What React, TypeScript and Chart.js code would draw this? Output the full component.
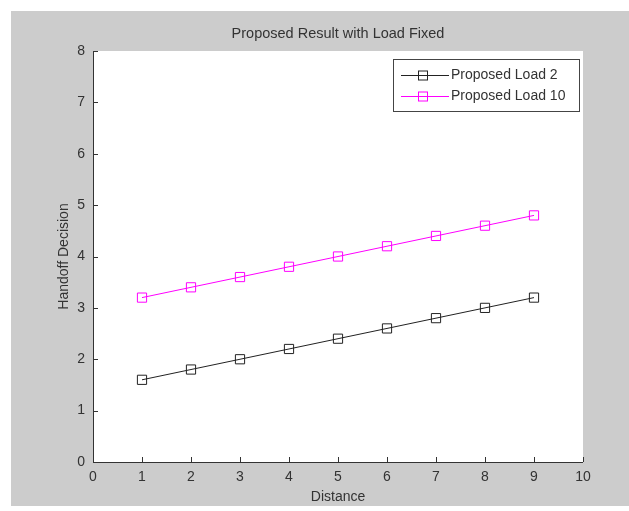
import React, { useEffect, useRef } from "react";
import { Chart, registerables } from "chart.js";

Chart.register(...registerables);

// Distance values on the x axis
const distances = [1, 2, 3, 4, 5, 6, 7, 8, 9];
// Handoff decision for each load setting
const load2Values = [1.6, 1.8, 2.0, 2.2, 2.4, 2.6, 2.8, 3.0, 3.2];
const load10Values = [3.2, 3.4, 3.6, 3.8, 4.0, 4.2, 4.4, 4.6, 4.8];
const seriesNames = ["Proposed Load 2", "Proposed Load 10"];
const seriesColors = ["#222222", "#ff00ff"];
const xTickValues = [0, 1, 2, 3, 4, 5, 6, 7, 8, 9, 10];
const yTickValues = [0, 1, 2, 3, 4, 5, 6, 7, 8];

const FONT = "'Liberation Sans', Arial, Helvetica, sans-serif";
const TEXT = "#333333";
const AXIS = "#333333";

// Grey figure, white axes, inward ticks and a boxed legend in the upper right.
const figurePlugin = {
  id: "figureFrame",
  beforeDraw(chart: any) {
    const { ctx, chartArea: a } = chart;
    ctx.save();
    ctx.fillStyle = "#ffffff";
    ctx.fillRect(0, 0, chart.width, chart.height);
    ctx.fillStyle = "#cccccc";
    ctx.fillRect(11, 11, chart.width - 11, chart.height - 16);
    ctx.fillStyle = "#ffffff";
    ctx.fillRect(a.left, a.top, a.right - a.left, a.bottom - a.top);
    ctx.restore();
  },
  afterDraw(chart: any) {
    const { ctx, chartArea: a, scales } = chart;
    const xs = scales.x;
    const ys = scales.y;
    ctx.save();
    ctx.strokeStyle = AXIS;
    ctx.lineWidth = 1;
    ctx.beginPath();
    ctx.moveTo(a.left + 0.5, a.top);
    ctx.lineTo(a.left + 0.5, a.bottom + 0.5);
    ctx.lineTo(a.right, a.bottom + 0.5);
    ctx.stroke();
    const tick = 5;
    ctx.beginPath();
    for (const v of xTickValues) {
      const px = Math.round(xs.getPixelForValue(v)) + 0.5;
      ctx.moveTo(px, a.bottom);
      ctx.lineTo(px, a.bottom - tick);
    }
    for (const v of yTickValues) {
      const py = Math.round(ys.getPixelForValue(v)) + 0.5;
      ctx.moveTo(a.left, py);
      ctx.lineTo(a.left + tick, py);
    }
    ctx.stroke();

    // legend
    const boxRight = a.right - 4;
    const boxLeft = boxRight - 186;
    const boxTop = a.top + 8;
    const boxBottom = boxTop + 52;
    ctx.fillStyle = "#ffffff";
    ctx.fillRect(boxLeft, boxTop, boxRight - boxLeft, boxBottom - boxTop);
    ctx.strokeStyle = "#444444";
    ctx.strokeRect(boxLeft + 0.5, boxTop + 0.5, boxRight - boxLeft, boxBottom - boxTop);
    const rows = [boxTop + 16, boxTop + 37];
    chart.data.datasets.forEach((ds: any, i: number) => {
      const y = Math.round(rows[i]) + 0.5;
      ctx.strokeStyle = ds.borderColor;
      ctx.lineWidth = 1;
      ctx.beginPath();
      ctx.moveTo(boxLeft + 8, y);
      ctx.lineTo(boxLeft + 56, y);
      ctx.stroke();
      const mx = boxLeft + 30;
      ctx.strokeRect(mx - 4.5, y - 4.5, 9, 9);
      ctx.fillStyle = TEXT;
      ctx.font = `14px ${FONT}`;
      ctx.textAlign = "left";
      ctx.textBaseline = "middle";
      ctx.fillText(ds.label, boxLeft + 58, y);
    });
    ctx.restore();
  },
};

export default function App() {
  const canvasRef = useRef<HTMLCanvasElement | null>(null);

  useEffect(() => {
    const canvas = canvasRef.current;
    if (!canvas) return;
    const makeSeries = (values: number[], i: number) => ({
      label: seriesNames[i],
      data: distances.map((d, k) => ({ x: d, y: values[k] })),
      borderColor: seriesColors[i],
      backgroundColor: "rgba(0,0,0,0)",
      borderWidth: 1,
      pointStyle: "rect" as const,
      pointRadius: 6.5,
      pointBorderWidth: 1,
      pointBorderColor: seriesColors[i],
      pointBackgroundColor: "rgba(0,0,0,0)",
      tension: 0,
      fill: false,
    });

    const chart = new Chart(canvas, {
      type: "line",
      data: {
        datasets: [makeSeries(load2Values, 0), makeSeries(load10Values, 1)],
      },
      options: {
        responsive: false,
        animation: false,
        devicePixelRatio: 1,
        layout: { padding: { top: 0, right: 46, bottom: 0, left: 0 } },
        plugins: {
          legend: { display: false },
          tooltip: { enabled: false },
          title: {
            display: true,
            fullSize: false,
            text: "Proposed Result with Load Fixed",
            color: TEXT,
            font: { family: FONT, size: 14.5, weight: "normal" },
            padding: { top: 25, bottom: 8.6 },
          },
        },
        scales: {
          x: {
            type: "linear",
            min: 0,
            max: 10,
            afterFit: (s: any) => {
              s.height = 49;
            },
            afterBuildTicks: (s: any) => {
              s.ticks = xTickValues.map((v) => ({ value: v }));
            },
            grid: { display: false, drawTicks: false },
            border: { display: false },
            ticks: {
              autoSkip: false,
              maxRotation: 0,
              padding: 7,
              color: TEXT,
              font: { family: FONT, size: 14 },
            },
            title: {
              display: true,
              text: "Distance",
              color: TEXT,
              font: { family: FONT, size: 14 },
              padding: { top: 0, bottom: 5 },
            },
          },
          y: {
            type: "linear",
            min: 0,
            max: 8,
            afterFit: (s: any) => {
              s.width = 93;
            },
            afterBuildTicks: (s: any) => {
              s.ticks = yTickValues.map((v) => ({ value: v }));
            },
            grid: { display: false, drawTicks: false },
            border: { display: false },
            ticks: {
              autoSkip: false,
              padding: 8,
              color: TEXT,
              font: { family: FONT, size: 14 },
            },
            title: {
              display: true,
              text: "Handoff Decision",
              color: TEXT,
              font: { family: FONT, size: 14 },
              padding: { top: 56, bottom: 0 },
            },
          },
        },
      },
      plugins: [figurePlugin],
    });
    return () => chart.destroy();
  }, []);

  return (
    <div style={{ position: "absolute", left: 0, top: 0, width: 629, height: 511 }}>
      <canvas ref={canvasRef} width={629} height={511} style={{ display: "block" }} />
    </div>
  );
}
